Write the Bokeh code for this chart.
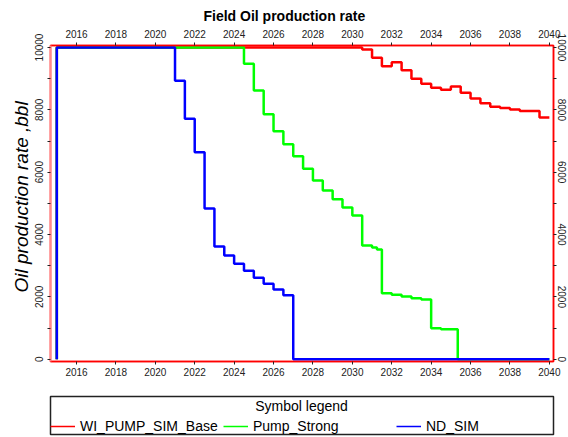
from bokeh.plotting import figure
from bokeh.layouts import column
from bokeh.models import Range1d, LinearAxis, FixedTicker, Legend, LegendItem, Label, Title
from bokeh.embed import file_html
from bokeh.resources import INLINE

# ---- data ----
year_ticks = [2016, 2018, 2020, 2022, 2024, 2026, 2028, 2030, 2032, 2034, 2036, 2038, 2040]
rate_ticks = [0, 2000, 4000, 6000, 8000, 10000]
rate_minor = [1000, 3000, 5000, 7000, 9000]

series_names = ["WI_PUMP_SIM_Base", "Pump_Strong", "ND_SIM"]
series_colors = ["#ff0000", "#00ff00", "#0000ff"]

base_t = [2015.0, 2015.0, 2030.5, 2031.0, 2031.5, 2032.0, 2032.5, 2033.0, 2033.5, 2034.0,
          2034.5, 2035.0, 2035.5, 2036.0, 2036.5, 2037.0, 2037.5, 2038.0, 2038.5, 2039.5, 2040.0]
base_v = [0, 10000, 9936, 9670, 9400, 9528, 9272, 8996, 8835, 8707,
          8643, 8749, 8547, 8364, 8215, 8100, 8060, 8010, 7960, 7754, 7754]

strong_t = [2015.0, 2015.0, 2024.5, 2025.0, 2025.5, 2026.0, 2026.5, 2027.0, 2027.5, 2028.0,
            2028.5, 2029.0, 2029.5, 2030.0, 2030.5, 2031.0, 2031.25, 2031.5, 2032.0, 2032.5,
            2033.0, 2033.5, 2034.0, 2034.5, 2035.35, 2040.0]
strong_v = [0, 10000, 9477, 8620, 7860, 7315, 6898, 6513, 6108, 5733,
            5412, 5133, 4867, 4610, 3648, 3584, 3519, 2117, 2066, 2012,
            1957, 1915, 995, 962, 0, 0]

nd_t = [2015.0, 2015.0, 2021.0, 2021.5, 2022.0, 2022.5, 2023.0, 2023.5, 2024.0, 2024.5,
        2025.0, 2025.5, 2026.0, 2026.5, 2027.0, 2040.0]
nd_v = [0, 10000, 8930, 7710, 6640, 4835, 3615, 3327, 3060, 2836,
        2611, 2419, 2236, 2053, 0, 0]

series = [(base_t, base_v), (strong_t, strong_v), (nd_t, nd_v)]

FONT = "Liberation Sans"

p = figure(width=568, height=380,
           x_range=Range1d(2014.68, 2040.21), y_range=Range1d(-74, 10064),
           output_backend="svg", toolbar_location=None,
           min_border_left=50, min_border_right=15, min_border_top=45, min_border_bottom=19)

p.title.text = "Field Oil production rate"
p.title.align = "left"
p.title.offset = 153
p.title.text_font = FONT
p.title.text_font_size = "14px"
p.title.text_font_style = "bold"
p.title.text_color = "#000000"
p.title.standoff = 5

p.grid.visible = False
p.background_fill_color = "white"
p.border_fill_color = "white"
p.outline_line_color = "#ff0000"
p.outline_line_width = 1.5

bottom_axis = p.below[0]
left_axis = p.left[0]
top_axis = LinearAxis()
p.add_layout(top_axis, "above")
right_axis = LinearAxis()
p.add_layout(right_axis, "right")

for ax in [bottom_axis, top_axis]:
    ax.ticker = FixedTicker(ticks=year_ticks)
    ax.axis_line_color = "#ff0000"
    ax.axis_line_width = 1.5
    ax.major_tick_out = 3
    ax.major_tick_in = 0
    ax.major_tick_line_color = "#222222"
    ax.minor_tick_line_color = None
    ax.major_label_standoff = 3
    ax.major_label_text_font = FONT
    ax.major_label_text_font_size = "10px"
    ax.major_label_text_color = "#222222"
top_axis.major_label_standoff = 5

for ax in [left_axis, right_axis]:
    ax.ticker = FixedTicker(ticks=rate_ticks, minor_ticks=rate_minor)
    ax.axis_line_color = "#ff0000"
    ax.axis_line_width = 1.5
    ax.major_tick_out = 3
    ax.major_tick_in = 0
    ax.minor_tick_out = 3
    ax.minor_tick_in = 0
    ax.major_tick_line_color = "#222222"
    ax.minor_tick_line_color = "#222222"
    ax.major_label_orientation = "parallel"
    ax.major_label_standoff = 4
    ax.major_label_text_font = FONT
    ax.major_label_text_font_size = "10px"
    ax.major_label_text_color = "#222222"

left_axis.axis_line_color = "#ff8a8a"
left_axis.axis_line_width = 2
right_axis.major_label_standoff = 1

ytitle = Title(text="Oil production rate ,bbl", align="left", offset=69,
               text_font=FONT, text_font_size="19px", text_font_style="italic",
               text_color="#000000", standoff=2)
p.add_layout(ytitle, "left")

for (t, v), c in zip(series, series_colors):
    p.step(x=t, y=v, mode="after", line_color=c, line_width=2.5)

# ---- legend panel: a small figure whose frame outline is the legend box ----
lf = figure(width=568, height=57, x_range=Range1d(0, 1), y_range=Range1d(0, 1),
            output_backend="svg", toolbar_location=None,
            x_axis_location=None, y_axis_location=None,
            min_border_left=50, min_border_right=15, min_border_top=16, min_border_bottom=3)
lf.grid.visible = False
lf.outline_line_color = "#222222"
lf.outline_line_width = 1.5
lf.background_fill_color = "white"
lf.border_fill_color = "white"

# same series drawn here only to provide legend swatches
# (their data lie outside this figure's ranges, so nothing is visible)
proxies = [lf.step(x=t, y=v, mode="after", line_color=c, line_width=1.5)
           for (t, v), c in zip(series, series_colors)]

legend = Legend(items=[LegendItem(label=n, renderers=[r]) for n, r in zip(series_names, proxies)],
                orientation="horizontal", location=(0, 0),
                glyph_width=25, glyph_height=16, label_height=16,
                label_standoff=5, label_width=143, spacing=0, padding=2, margin=0,
                label_text_font=FONT, label_text_font_size="14px", label_text_color="#000000",
                border_line_color=None, background_fill_alpha=0.0)
lf.add_layout(legend, "center")

leg_title = Label(x=251, y=29, x_units="screen", y_units="screen",
                  text="Symbol legend", text_align="center", text_baseline="middle",
                  text_font=FONT, text_font_size="14px", text_color="#000000")
lf.add_layout(leg_title)

layout = column(p, lf, spacing=0)
open("out.html", "w").write(file_html(layout, INLINE))
